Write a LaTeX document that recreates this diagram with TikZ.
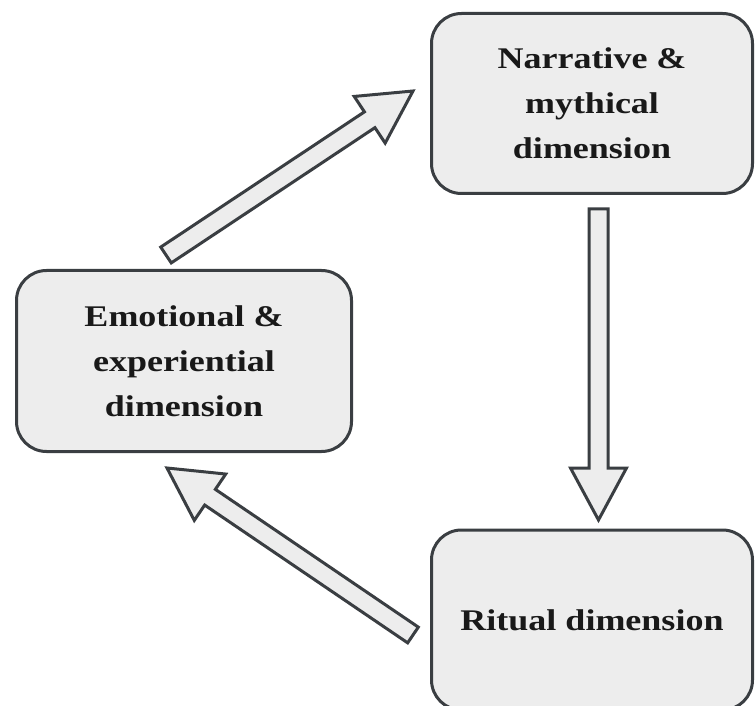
\documentclass[tikz,border=0pt]{standalone}
\usepackage{fontspec}
\setmainfont[FakeStretch=1.2]{Liberation Serif}
\usetikzlibrary{calc}

\definecolor{boxgray}{HTML}{EDEDED}
\definecolor{linegray}{HTML}{3A3E42}

\tikzset{
  dimbox/.style={draw=linegray, fill=boxgray, line width=3pt, rounded corners=30pt,
    align=center, text=black!90, font=\bfseries\fontsize{30}{45}\selectfont},
  blockarrow/.style={draw=linegray, fill=boxgray, line width=3pt, line join=miter,
    to path={
      let \p1=(\tikztostart), \p2=(\tikztotarget), \n1={atan2(\y2-\y1,\x2-\x1)},
          \p3=($(\p2)+({\n1+180}:52pt)$) in
      ($(\p1)+({\n1+90}:9.5pt)$) -- ($(\p3)+({\n1+90}:9.5pt)$) -- ($(\p3)+({\n1+90}:28pt)$)
      -- (\p2) -- ($(\p3)+({\n1-90}:28pt)$) -- ($(\p3)+({\n1-90}:9.5pt)$)
      -- ($(\p1)+({\n1-90}:9.5pt)$) -- cycle}}
}

\begin{document}
\begin{tikzpicture}[x=1pt,y=-1pt]
  \useasboundingbox (0,0) rectangle (756,706);
  \clip (0,0) rectangle (756,706);

  % the three dimensions
  \node[dimbox, minimum width=321pt, minimum height=180pt] (narr) at (592,103.5) {Narrative \&\\mythical\\dimension};
  \node[dimbox, minimum width=335pt, minimum height=181pt] (emot) at (184,361) {Emotional \&\\experiential\\dimension};
  \node[dimbox, minimum width=321pt, minimum height=180pt] (ritu) at (592,620) {Ritual dimension};

  % free ends of the arrows
  \coordinate (e2n-tail) at (166,255);
  \coordinate (e2n-tip)  at (413,91);
  \coordinate (n2r-tail) at (598.5,209);
  \coordinate (n2r-tip)  at (598.5,520);
  \coordinate (r2e-tail) at (413,635);
  \coordinate (r2e-tip)  at (167,468);

  \draw[blockarrow] (e2n-tail) to (e2n-tip);
  \draw[blockarrow] (n2r-tail) to (n2r-tip);
  \draw[blockarrow] (r2e-tail) to (r2e-tip);
\end{tikzpicture}
\end{document}
